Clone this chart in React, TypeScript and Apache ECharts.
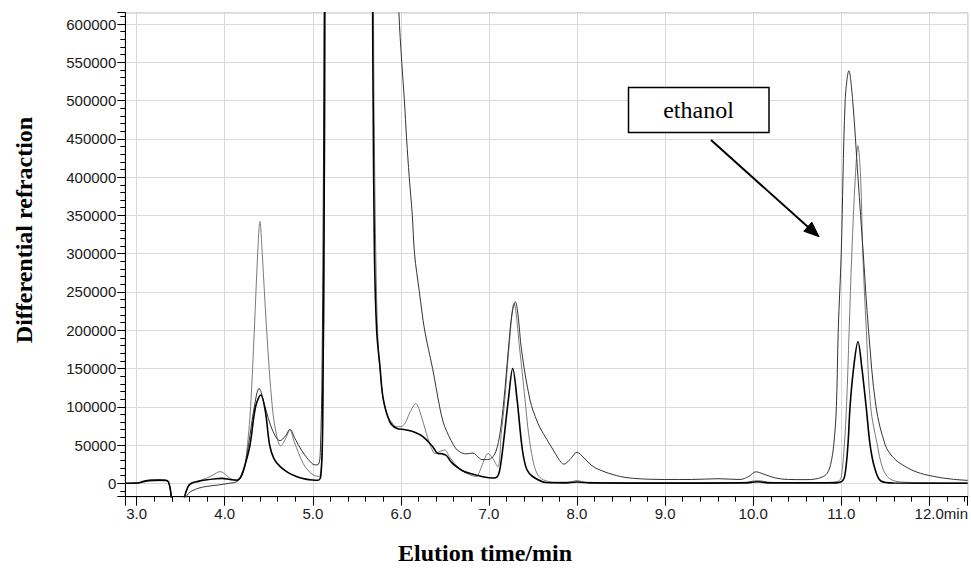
import React, { useEffect, useRef } from 'react';
import * as echarts from 'echarts';

// Axis ranges (minutes / signal units)
const timeMin = 2.871;
const timeMax = 12.436;
const signalMin = -17500;
const signalMax = 614800;

// Tick labels
const xTickValues = [3, 4, 5, 6, 7, 8, 9, 10, 11, 12];
const xTickLabels = ['3.0', '4.0', '5.0', '6.0', '7.0', '8.0', '9.0', '10.0', '11.0', '12.0min'];

// Thin grey trace  [time, signal]
const traceThin: [number, number][] = [
  [2.871, 0], [3.0, 200], [3.08, 1500], [3.15, 3000], [3.25, 3300], [3.33, 3000], [3.36, 1500],
  [3.385, -10000], [3.41, -40000], [3.48, -70000], [3.54, -22000], [3.58, -6000], [3.63, 0],
  [3.70, 3000], [3.79, 6500], [3.87, 11000], [3.946, 15200], [4.0, 12500], [4.06, 6500],
  [4.13, 4000], [4.17, 6000], [4.20, 12000], [4.23, 24000], [4.26, 52000], [4.294, 100000],
  [4.336, 200000], [4.374, 300000], [4.40, 342000], [4.426, 300000], [4.476, 200000],
  [4.54, 100000], [4.59, 62000], [4.635, 48700], [4.69, 58000], [4.74, 69600], [4.79, 54000],
  [4.89, 26000], [4.96, 15000], [5.025, 10000], [5.07, 9000], [5.095, 18000], [5.115, 90000],
  [5.135, 420000], [5.155, 900000], [5.4, 1500000], [5.66, 1000000], [5.695, 500000],
  [5.715, 300000], [5.74, 185000], [5.77, 140000], [5.80, 110000], [5.85, 88000], [5.90, 79000],
  [5.95, 74000], [6.0, 74000], [6.05, 79000], [6.10, 92000], [6.17, 104000], [6.22, 92000],
  [6.29, 65000], [6.34, 48000], [6.39, 39000], [6.45, 42000], [6.50, 43500], [6.55, 35000],
  [6.61, 26000], [6.68, 18000], [6.75, 13000], [6.82, 9500], [6.86, 9000], [6.90, 17000],
  [6.95, 32000], [6.99, 39000], [7.04, 33000], [7.10, 21700], [7.14, 65000], [7.18, 109000],
  [7.225, 174000], [7.285, 235000], [7.35, 174000], [7.41, 109000], [7.45, 65000], [7.50, 30000],
  [7.55, 12000], [7.62, 4500], [7.75, 1500], [7.9, 1500], [8.0, 3500], [8.1, 1500], [8.5, 800],
  [9.0, 700], [9.5, 900], [9.9, 1200], [10.05, 3500], [10.2, 1200], [10.5, 800], [10.8, 1000],
  [10.9, 1500], [10.97, 3000], [11.0, 8000], [11.035, 50000], [11.06, 100000], [11.09, 200000],
  [11.12, 300000], [11.16, 400000], [11.19, 441000], [11.22, 400000], [11.245, 300000],
  [11.285, 200000], [11.334, 100000], [11.41, 50000], [11.47, 20000], [11.55, 6000],
  [11.7, 1500], [12.0, 800], [12.436, 500],
];

// Dark trace with long tails
const traceDark: [number, number][] = [
  [2.871, 0], [3.0, 300], [3.08, 2500], [3.15, 4000], [3.25, 4300], [3.33, 4000], [3.36, 2000],
  [3.385, -10000], [3.41, -40000], [3.48, -70000], [3.54, -25000], [3.59, -13000], [3.70, -6500],
  [3.80, -4000], [3.93, -2200], [4.05, 0], [4.135, 2000], [4.18, 7000], [4.22, 18000],
  [4.27, 50000], [4.336, 100000], [4.39, 124000], [4.457, 100000], [4.54, 70000], [4.627, 55700],
  [4.69, 62000], [4.74, 70500], [4.80, 58000], [4.87, 43500], [4.95, 31000], [5.025, 24000],
  [5.065, 25000], [5.085, 40000], [5.105, 150000], [5.125, 500000], [5.145, 1000000],
  [5.5, 1600000], [5.90, 900000], [5.978, 614800], [6.01, 550000], [6.04, 500000],
  [6.065, 450000], [6.095, 400000], [6.13, 350000], [6.155, 300000], [6.21, 250000],
  [6.27, 200000], [6.36, 150000], [6.44, 100000], [6.48, 80000], [6.52, 68000], [6.57, 56000],
  [6.62, 46000], [6.67, 41000], [6.74, 38500], [6.82, 39500], [6.87, 35000], [6.92, 31000],
  [6.97, 31000], [7.03, 33000], [7.08, 42000], [7.125, 65000], [7.17, 109000], [7.22, 174000],
  [7.26, 220000], [7.30, 237000], [7.33, 220000], [7.37, 174000], [7.466, 109000],
  [7.55, 80000], [7.617, 65000], [7.73, 43500], [7.79, 32000], [7.85, 25000], [7.92, 31000],
  [8.0, 40500], [8.08, 33000], [8.17, 23000], [8.26, 17400], [8.45, 10000], [8.64, 6500],
  [9.0, 5000], [9.3, 5000], [9.6, 6000], [9.85, 5000], [9.95, 9000], [10.03, 15000],
  [10.12, 12000], [10.25, 7000], [10.4, 5000], [10.6, 4800], [10.7, 5500], [10.78, 8000],
  [10.84, 13000], [10.88, 25000], [10.915, 50000], [10.945, 100000], [10.966, 200000],
  [11.0, 300000], [11.045, 500000], [11.087, 539000], [11.13, 500000], [11.19, 400000],
  [11.25, 300000], [11.31, 200000], [11.395, 100000], [11.50, 50000], [11.58, 35000],
  [11.67, 26000], [11.85, 15000], [12.05, 9000], [12.25, 5500], [12.436, 3800],
];

// Bold black trace
const traceBold: [number, number][] = [
  [2.871, 0], [3.0, 300], [3.08, 2500], [3.15, 3800], [3.25, 4200], [3.33, 4000], [3.36, 2000],
  [3.385, -10000], [3.41, -40000], [3.48, -70000], [3.54, -20000], [3.58, -5000], [3.62, 0],
  [3.70, 2500], [3.78, 4300], [3.90, 6000], [3.97, 6500], [4.06, 5000], [4.135, 4000],
  [4.18, 8000], [4.23, 24000], [4.287, 50000], [4.35, 100000], [4.41, 115400], [4.46, 95000],
  [4.51, 50000], [4.56, 32000], [4.63, 21700], [4.72, 14000], [4.82, 8600], [4.92, 5500],
  [5.0, 4300], [5.06, 4000], [5.09, 9000], [5.11, 60000], [5.13, 400000], [5.145, 800000],
  [5.4, 1500000], [5.65, 1000000], [5.685, 500000], [5.70, 300000], [5.725, 200000],
  [5.763, 152000], [5.80, 110000], [5.876, 80000], [5.95, 72000], [6.05, 70000], [6.15, 67000],
  [6.25, 61000], [6.36, 48000], [6.42, 39000], [6.47, 38500], [6.52, 36000], [6.57, 28000],
  [6.63, 21700], [6.70, 16500], [6.78, 13000], [6.93, 8600], [7.05, 7000], [7.09, 8000],
  [7.12, 16000], [7.155, 43500], [7.22, 108800], [7.27, 150000], [7.32, 108800], [7.38, 43500],
  [7.43, 18000], [7.50, 8600], [7.65, 1000], [7.85, 500], [8.0, 1800], [8.15, 500], [9.0, 200],
  [9.9, 500], [10.05, 2000], [10.2, 500], [10.9, 500], [11.0, 2000], [11.04, 10000],
  [11.076, 50000], [11.10, 100000], [11.14, 150000], [11.19, 185000], [11.235, 150000],
  [11.283, 100000], [11.328, 50000], [11.38, 20000], [11.45, 3000], [11.6, 300], [12.436, 0],
];

const sansFont = '"Liberation Sans", Arial, sans-serif';
const serifFont = '"Liberation Serif", "Times New Roman", serif';

export default function App() {
  const ref = useRef<HTMLDivElement>(null);

  useEffect(() => {
    if (!ref.current) return;
    const chart = echarts.init(ref.current, undefined, { renderer: 'svg' });

    const labelFor = (v: number) => {
      const i = xTickValues.indexOf(Math.round(v * 1000) / 1000);
      if (i < 0) return '';
      const t = xTickLabels[i];
      if (t.endsWith('min')) return '{pad|}' + t;
      return t;
    };

    const lineSeries = (name: string, data: [number, number][], color: string, width: number, z: number) => ({
      type: 'line',
      name,
      data,
      showSymbol: false,
      symbol: 'none',
      smooth: 0.35,
      clip: true,
      z,
      lineStyle: { color, width },
    });

    chart.setOption({
      animation: false,
      backgroundColor: '#ffffff',
      grid: {
        left: 125.3,
        top: 12.7,
        right: 3.3,
        bottom: 71.3,
        show: true,
        borderColor: '#666666',
        borderWidth: 1,
        containLabel: false,
        outerBoundsMode: 'none',
      },
      xAxis: {
        type: 'value',
        min: timeMin,
        max: timeMax,
        splitNumber: 10,
        axisLine: { show: true, onZero: false, lineStyle: { color: '#000', width: 1 } },
        axisTick: { show: true, length: 9, lineStyle: { color: '#000', width: 1 } },
        minorTick: { show: true, splitNumber: 5, length: 5, lineStyle: { color: '#000', width: 1 } },
        splitLine: { show: true, lineStyle: { color: '#dadada', width: 1 } },
        axisLabel: {
          showMinLabel: false,
          showMaxLabel: false,
          margin: 9,
          fontSize: 15,
          fontFamily: sansFont,
          color: '#1a1a1a',
          formatter: labelFor,
          rich: { pad: { width: 24 } },
        },
      },
      yAxis: {
        type: 'value',
        min: signalMin,
        max: signalMax,
        splitNumber: 12,
        axisLine: { show: true, onZero: false, lineStyle: { color: '#000', width: 1 } },
        axisTick: { show: true, length: 8, lineStyle: { color: '#000', width: 1 } },
        minorTick: { show: true, splitNumber: 5, length: 5, lineStyle: { color: '#000', width: 1 } },
        splitLine: { show: true, lineStyle: { color: '#dadada', width: 1 } },
        axisLabel: {
          showMinLabel: false,
          showMaxLabel: false,
          margin: 9,
          fontSize: 15,
          fontFamily: sansFont,
          color: '#1a1a1a',
          formatter: (v: number) => String(Math.round(v)),
        },
      },
      series: [
        lineSeries('Trace 1', traceThin, '#7a7a7a', 1, 2),
        lineSeries('Trace 2', traceDark, '#333333', 1, 3),
        lineSeries('Trace 3', traceBold, '#000000', 1.6, 4),
      ],
      graphic: [
        {
          type: 'text',
          x: 24,
          y: 230,
          rotation: Math.PI / 2,
          style: {
            text: 'Differential refraction',
            font: 'bold 24px ' + serifFont,
            fill: '#000',
            align: 'center',
            verticalAlign: 'middle',
          },
        },
        {
          type: 'text',
          x: 485,
          y: 553,
          style: {
            text: 'Elution time/min',
            font: 'bold 24px ' + serifFont,
            fill: '#000',
            align: 'center',
            verticalAlign: 'middle',
          },
        },
        {
          type: 'rect',
          shape: { x: 628.5, y: 87.5, width: 140.5, height: 45 },
          style: { fill: '#ffffff', stroke: '#000', lineWidth: 1.5 },
          z: 10,
        },
        {
          type: 'text',
          x: 698.5,
          y: 110,
          z: 11,
          style: {
            text: 'ethanol',
            font: '24px ' + serifFont,
            fill: '#000',
            align: 'center',
            verticalAlign: 'middle',
          },
        },
        {
          type: 'line',
          shape: { x1: 711, y1: 140, x2: 808, y2: 227 },
          style: { stroke: '#000', lineWidth: 2 },
          z: 10,
        },
        {
          type: 'polygon',
          shape: { points: [[819, 236.7], [803.8, 231.2], [811.8, 222.2]] },
          style: { fill: '#000', stroke: '#000', lineWidth: 1 },
          z: 10,
        },
      ],
    });

    return () => chart.dispose();
  }, []);

  return (
    <div
      ref={ref}
      style={{ position: 'absolute', left: 0, top: 0, width: 971, height: 568, background: '#fff' }}
    />
  );
}
